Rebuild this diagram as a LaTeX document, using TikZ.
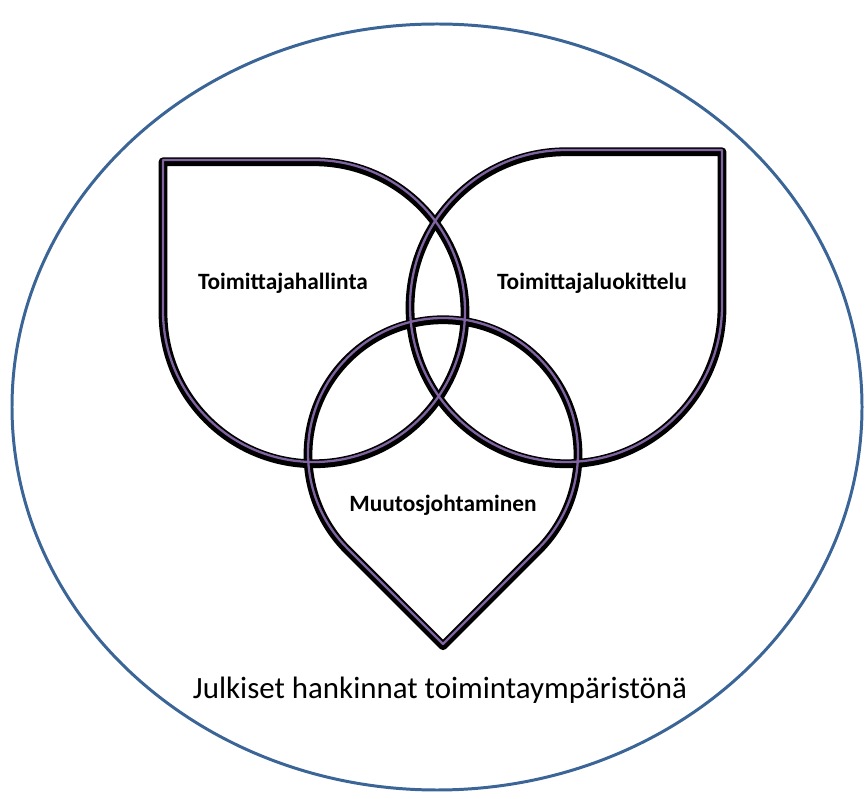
\documentclass[tikz,border=0pt]{standalone}
\usepackage{fontspec}
\setmainfont{Carlito}
\usepackage{tikz}
\usetikzlibrary{calc}
\definecolor{envblue}{HTML}{3B6597}
\definecolor{leafpurple}{HTML}{8064A2}

\begin{document}
\begin{tikzpicture}[x=0.02cm,y=0.02cm,
        leafshadow/.style={draw=black,line width=5pt,line join=round,transform canvas={yshift=-1pt}},
        leafline/.style={draw=leafpurple,line width=1.3pt,line join=round},
        leaflabel/.style={font=\bfseries\fontsize{13.3}{15}\selectfont}]
            \useasboundingbox (0,0) rectangle (865,798);
            \draw [envblue,line width=1.7pt] (437,391) ellipse [x radius=425,y radius=383];
            % leaf centres and radii
            \coordinate (cl) at (314,487);
            \coordinate (cr) at (566,492);
            \coordinate (cb) at (443,345);
            \foreach \st in {leafshadow,leafline} {
                \path [\st] (163,638) -- ($(cl)+(0,151)$) arc [start angle=90,end angle=-180,radius=151] -- cycle;
                \path [\st] (722,648) -- ($(cr)+(0,156)$) arc [start angle=90,end angle=360,radius=156] -- cycle;
                \path [\st] ($(cb)+(0,-191)$) -- ($(cb)+(-45:135)$) arc [start angle=-45,end angle=225,radius=135] -- cycle;
            }
            \node [leaflabel] (hallinta) at (283,515) {Toimittajahallinta};
            \node [leaflabel] (luokittelu) at (592,515) {Toimittajaluokittelu};
            \node [leaflabel] (muutos) at (443,293) {Muutosjohtaminen};
            \node [font=\fontsize{17.6}{21}\selectfont] (ymparisto) at (440,108) {Julkiset hankinnat toimintaympäristönä};
        \end{tikzpicture}
\end{document}
